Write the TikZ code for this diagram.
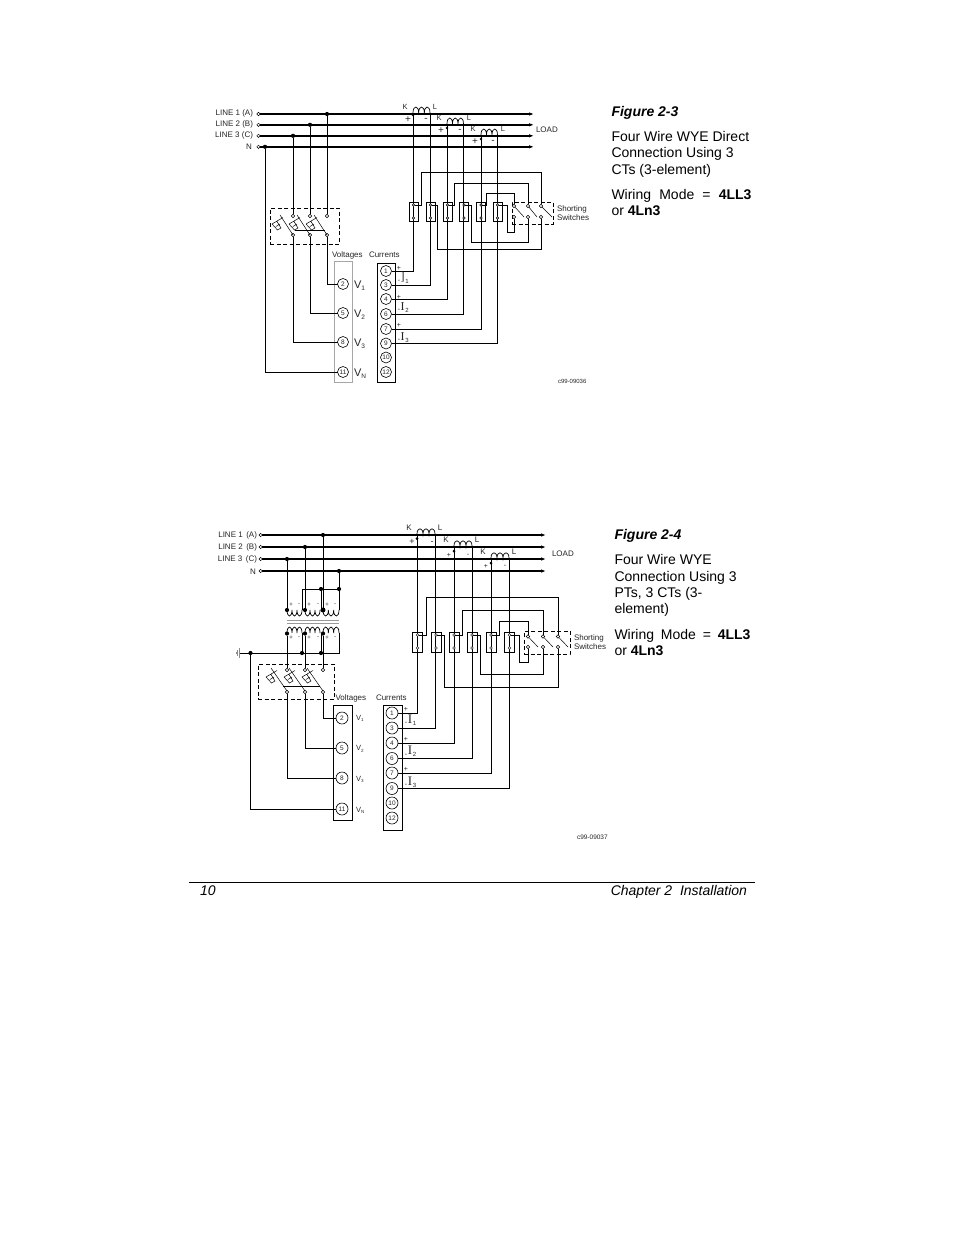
\documentclass[tikz,border=0pt]{standalone}
\usepackage{fontspec}
\setmainfont{Liberation Sans}
\newfontfamily\serifI{Liberation Serif}
\usetikzlibrary{arrows.meta}
\newcommand{\fs}[1]{\fontsize{#1}{#1}\selectfont}
\newcommand{\Coil}[5][wire]{% x0, y, width, hump
  \draw[#1,line width=.7pt] (#2,#3)
   .. controls (#2,#3-#5) and (#2+#4/3,#3-#5) .. (#2+#4/3,#3)
   .. controls (#2+#4/3,#3-#5) and (#2+2*#4/3,#3-#5) .. (#2+2*#4/3,#3)
   .. controls (#2+2*#4/3,#3-#5) and (#2+#4,#3-#5) .. (#2+#4,#3);}
\newcommand{\Fuse}[3]{% x of bottom terminal, y top terminal, blade rise
  \draw[thin line] (#1-#3,#2-1) -- (#1,#2+#3+6);
  \draw[thin line] (#1-21,#2+8) -- (#1-10,#2+1.5)
    (#1-21,#2+8) -- (#1-15.5,#2+14) -- (#1-12,#2+12) -- (#1-16,#2+5.5)
    (#1-17,#2+10.5) -- (#1-13,#2+8);}
\tikzset{
  x=1pt,y=-1pt,
  every node/.style={inner sep=0pt,outer sep=0pt,text=black!85},
  bus/.style={line width=1.5pt,-{Latex[length=5pt,width=3.5pt]}},
  wire/.style={line width=.85pt,black},
  thin line/.style={line width=.5pt,black},
  pt/.style={circle,draw=black,fill=white,line width=.45pt,minimum size=3.4pt},
  dot/.style={circle,fill=black,minimum size=4.2pt},
  term/.style={circle,draw=black,fill=white,line width=.6pt,minimum size=11pt,font=\fs{6.5}},
  ctbox/.style={draw=black,line width=.8pt,minimum width=9pt,minimum height=19pt},
  ctboxb/.style={draw=black,line width=.8pt,minimum width=10pt,minimum height=20pt},
  swbox/.style={draw=black,line width=.9pt,dashed,dash pattern=on 4pt off 2.5pt},
  lab/.style={font=\fs{8},anchor=base west},
  labe/.style={font=\fs{8},anchor=base east},
  labc/.style={font=\fs{8},anchor=center},
  main/.style={font=\fs{14},anchor=base west,text=black},
}
\begin{document}
\begin{tikzpicture}
\useasboundingbox (0,0) rectangle (954,1235);
\fill[white] (0,0) rectangle (954,1235);

%%%%%%%%%%%%%%%%%% FIGURE 2-3
\node[pt] (a1) at (258.5,114) {}; \coordinate (e1) at (534,114);
\node[pt] (a2) at (258.5,124.8) {}; \coordinate (e2) at (534,124.8);
\node[pt] (a3) at (258.5,135.8) {}; \coordinate (e3) at (534,135.8);
\node[pt] (a4) at (258.5,146.8) {}; \coordinate (e4) at (534,146.8);
\foreach \i in {1,...,4} \draw[bus] (a\i) -- (e\i);
\node[labe] (ta1) at (253,115.5) {LINE 1 (A)};
\node[labe] (ta2) at (253,126.5) {LINE 2 (B)};
\node[labe] (ta3) at (253,137.5) {LINE 3 (C)};
\node[labe] (ta4) at (252,149.5) {N};
\node[lab] (tload) at (536,132) {LOAD};
\node[dot] (d1) at (327,114) {};
\node[dot] (d2) at (310,124.8) {};
\node[dot] (d3) at (293,135.8) {};
\node[dot] (d4) at (265,146.8) {};
\node[swbox,minimum width=69pt,minimum height=36pt] (vsw) at (304.5,226) {};
\foreach \n/\x in {a/293,b/310,c/327}{
  \node[pt] (st\n) at (\x,216) {};
  \node[pt] (sb\n) at (\x,235) {};
  \Fuse{\x}{216}{13}
}
\draw[thin line] (295,230) -- (325,230);
\draw[wire] (d3) -- (sta);
\draw[wire] (d2) -- (stb);
\draw[wire] (d1) -- (stc);
\node[draw=black!35,line width=.9pt,minimum width=18pt,minimum height=121pt] (vb) at (343,321.5) {};
\node[term] (v2) at (343,284) {2};
\node[term] (v5) at (343,313) {5};
\node[term] (v8) at (343,342) {8};
\node[term] (v11) at (343,372) {11};
\draw[wire] (sbc) |- (v2);
\draw[wire] (sbb) |- (v5);
\draw[wire] (sba) |- (v8);
\draw[wire] (d4) |- (v11);
\node[lab,font=\fs{8}] (tv) at (332,257) {Voltages};
\node[lab,font=\fs{8}] (tc) at (369,257) {Currents};
\node[lab,font=\fs{11}] (lv1) at (354,288) {V\raisebox{-2.5pt}{\fs{6.5}1}};
\node[lab,font=\fs{11}] (lv2) at (354,317) {V\raisebox{-2.5pt}{\fs{6.5}2}};
\node[lab,font=\fs{11}] (lv3) at (354,346) {V\raisebox{-2.5pt}{\fs{6.5}3}};
\node[lab,font=\fs{11}] (lvn) at (354,376) {V\raisebox{-2.5pt}{\fs{6.5}N}};
\node[draw=black,line width=.9pt,minimum width=18pt,minimum height=119pt] (cb) at (386,322.5) {};
\foreach \n/\y in {1/271,3/285,4/299,6/314,7/329,9/343.5,10/357.5,12/372}
  \node[term] (c\n) at (386,\y) {\n};
\Coil{413}{113}{17}{8}
\Coil{447}{124}{16.5}{8}
\Coil{481}{135}{16.5}{8}
\coordinate (k1) at (413,113); \coordinate (l1) at (430,113);
\coordinate (k2) at (447,124); \coordinate (l2) at (463.5,124);
\coordinate (k3) at (481,135); \coordinate (l3) at (497.5,135);
\node[dot,minimum size=2.6pt] (kd1) at (413,115) {};
\node[dot,minimum size=2.6pt] (kd2) at (447,128) {};
\node[dot,minimum size=2.6pt] (kd3) at (481,139) {};
\draw[wire] (k1) |- (c1);
\draw[wire] (l1) |- (c3);
\draw[wire] (k2) |- (c4);
\draw[wire] (l2) |- (c6);
\draw[wire] (k3) |- (c7);
\draw[wire] (l3) |- (c9);
\foreach \n/\x/\y in {1/405/107,2/439/118,3/473/129} \node[labc,font=\fs{7.5}] (tk\n) at (\x,\y) {K};
\foreach \n/\x/\y in {1/435/107,2/469/118,3/503/129} \node[labc,font=\fs{7.5}] (tl\n) at (\x,\y) {L};
\foreach \n/\x/\y in {1/408/120,2/441/131,3/475/142} \node[labc,font=\fs{10}] (tp\n) at (\x,\y) {+};
\foreach \n/\x/\y in {1/426/120,2/460/131,3/493/142} \node[labc,font=\fs{10}] (tm\n) at (\x,\y) {-};
\foreach \n/\x in {1/413.5,2/430.5,3/447.5,4/464,5/481,6/497.5}{
  \node[ctbox] (b\n) at (\x,211.5) {};
  \node[pt,minimum size=2.6pt] (bt\n) at (\x,205) {};
  \node[pt,minimum size=2.6pt] (bb\n) at (\x,218) {};
}
\node[swbox,minimum width=41pt,minimum height=22pt] (isw) at (532.5,213) {};
\foreach \n/\x in {a/514,b/528,c/541}{
  \node[pt] (it\n) at (\x,206) {};
  \node[pt] (ib\n) at (\x,217) {};
}
\draw[thin line] (ita) -- (524,217);
\draw[thin line] (itb) -- (537,217);
\draw[thin line] (itc) -- (552,217);
\coordinate (r1) at (541,172); \coordinate (r2) at (528,183); \coordinate (r3) at (514,193);
\coordinate (q1) at (541,249); \coordinate (q2) at (528,242); \coordinate (q3) at (514,232);
\draw[wire] (bt1) -- ++(8,0) |- (r1) -- (itc);
\draw[wire] (bt3) -- ++(7,0) |- (r2) -- (itb);
\draw[wire] (bt5) -- ++(5.5,0) |- (r3) -- (ita);
\draw[wire] (bt2) -- ++(7,0) |- (q1) -- (ibc);
\draw[wire] (bt4) -- ++(7,0) |- (q2) -- (ibb);
\draw[wire] (bt6) -- ++(9.5,0) |- (q3) -- (iba);
\node[lab] (ts1) at (557,211) {Shorting};
\node[lab] (ts2) at (557,220) {Switches};
\node[lab,font=\fs{6}] (tc99a) at (558,383) {c99-09036};
\node[labc,font=\fs{7}] (p1) at (399,268) {+};
\node[labc,font=\fs{7}] (p2) at (399,297) {+};
\node[labc,font=\fs{7}] (p3) at (399,325) {+};
\node[labc,font=\fs{7}] (m1) at (399,281) {-};
\node[labc,font=\fs{7}] (m2) at (399,310) {-};
\node[labc,font=\fs{7}] (m3) at (399,340) {-};
\node[labc,font=\fs{12}] (i1) at (402.5,277.5) {\serifI ]};
\node[labc,font=\fs{12}] (i2) at (402.5,306.5) {\serifI I};
\node[labc,font=\fs{12}] (i3) at (402.5,336.5) {\serifI I};
\node[labc,font=\fs{6}] (is1) at (407,281) {1};
\node[labc,font=\fs{6}] (is2) at (407,310) {2};
\node[labc,font=\fs{6}] (is3) at (407,340) {3};

\node[main,font=\fs{14}\bfseries\itshape] (f3) at (611.5,116) {Figure 2-3};
\node[main] (f3a) at (611.5,141) {Four Wire WYE Direct};
\node[main] (f3b) at (611.5,157) {Connection Using 3};
\node[main] (f3c) at (611.5,174) {CTs (3-element)};
\node[main] (f3d) at (611.5,199) {\hbox to 140pt{Wiring\hfill Mode\hfill =\hfill \textbf{4LL3}}};
\node[main] (f3e) at (611.5,215.5) {or \textbf{4Ln3}};

%%%%%%%%%%%%%%%%%% FIGURE 2-4
\node[pt] (A1) at (260.7,535) {}; \coordinate (E1) at (546,535);
\node[pt] (A2) at (260.7,547) {}; \coordinate (E2) at (546,547);
\node[pt] (A3) at (260.7,559) {}; \coordinate (E3) at (546,559);
\node[pt] (A4) at (260.7,571) {}; \coordinate (E4) at (546,571);
\foreach \i in {1,...,4} \draw[bus] (A\i) -- (E\i);
\node[labe] (TA1) at (257,537) {LINE 1\, (A)};
\node[labe] (TA2) at (257,549) {LINE 2\, (B)};
\node[labe] (TA3) at (257,561) {LINE 3\, (C)};
\node[labe] (TA4) at (256,574) {N};
\node[lab] (TLOAD) at (552,556) {LOAD};
\node[dot] (D1) at (323,535) {};
\node[dot] (D2) at (305,547) {};
\node[dot] (D3) at (287,559) {};
\node[dot] (D4) at (339,571) {};
\Coil{287}{610}{15}{-8}
\Coil{305}{610}{15}{-8}
\Coil{323}{610}{16}{-8}
\Coil{287}{633}{15}{8}
\Coil{305}{633}{15}{8}
\Coil{323}{633}{16}{8}
\draw[black!40,line width=.7pt] (287,620) -- (339,620) (287,623) -- (339,623);
\node[dot] (P1) at (287,610) {};
\node[dot] (P2) at (305,610) {};
\node[dot,minimum size=5pt] (P3) at (323,610) {};
\coordinate (P4) at (339,610);
\coordinate (P5) at (302,610);
\coordinate (P6) at (321,610);
\node[dot] (Y1) at (321,589) {};
\node[dot] (Y2) at (339,589) {};
\coordinate (Y3) at (302,589);
\draw[wire] (D3) -- (P1);
\draw[wire] (D2) -- (P2);
\draw[wire] (D1) -- (P3);
\draw[wire] (D4) -- (P4);
\draw[wire] (P5) -- (Y3) -- (Y2);
\draw[wire] (Y1) -- (P6);
\foreach \n/\x in {1/291,2/309,3/327}{
  \node[labc,font=\fs{6}] (pp\n) at (\x,605) {+};
  \node[labc,font=\fs{6}] (sp\n) at (\x,638) {+};
}
\foreach \n/\x in {1/299,2/318,3/335}{
  \node[labc,font=\fs{6}] (pm\n) at (\x,605) {-};
  \node[labc,font=\fs{6}] (sm\n) at (\x,638) {-};
}
\node[dot] (S1) at (287,633.5) {};
\node[dot] (S2) at (305,633.5) {};
\node[dot] (S3) at (323,633.5) {};
\coordinate (S5) at (302,633); \coordinate (S6) at (321,633); \coordinate (S4) at (339,633);
\coordinate (G0) at (239,653);
\coordinate (G4) at (339,653);
\node[dot] (G1) at (250.5,653) {};
\node[dot] (G2) at (302,653) {};
\node[dot] (G3) at (321,653) {};
\draw[wire] (S4) -- (G4) -- (G0);
\draw[wire] (S5) -- (G2);
\draw[wire] (S6) -- (G3);
\draw[black!45,line width=.5pt] (239,648) -- (239,658) (237.5,650) -- (237.5,656) (236,652) -- (236,654);
\node[swbox,minimum width=76pt,minimum height=35pt] (VSW) at (296,681.5) {};
\foreach \n/\x in {a/287,b/305,c/323}{
  \node[pt] (Bt\n) at (\x,670) {};
  \node[pt] (Bb\n) at (\x,692) {};
  \Fuse{\x}{669}{16}
}
\draw[thin line] (283,686) -- (320,686);
\draw[wire] (S1) -- (Bta);
\draw[wire] (S2) -- (Btb);
\draw[wire] (S3) -- (Btc);
\node[draw=black,line width=.9pt,minimum width=19pt,minimum height=115pt] (VB) at (342.5,762.5) {};
\node[term,minimum size=12pt] (V2) at (342,718) {2};
\node[term,minimum size=12pt] (V5) at (342,748) {5};
\node[term,minimum size=12pt] (V8) at (342,778) {8};
\node[term,minimum size=12pt] (V11) at (342,809) {11};
\draw[wire] (Bbc) |- (V2);
\draw[wire] (Bbb) |- (V5);
\draw[wire] (Bba) |- (V8);
\draw[wire] (G1) |- (V11);
\node[lab] (TV) at (335.5,700) {Voltages};
\node[lab] (TC) at (376,700) {Currents};
\node[lab,font=\fs{7.5}] (LV1) at (356,720) {V\raisebox{-1.5pt}{\fs{4.5}1}};
\node[lab,font=\fs{7.5}] (LV2) at (356,750.5) {V\raisebox{-1.5pt}{\fs{4.5}2}};
\node[lab,font=\fs{7.5}] (LV3) at (356,781) {V\raisebox{-1.5pt}{\fs{4.5}3}};
\node[lab,font=\fs{7.5}] (LVN) at (356,812) {V\raisebox{-1.5pt}{\fs{4.5}N}};
\node[draw=black,line width=.9pt,minimum width=19pt,minimum height=125pt] (CB) at (392.5,767.5) {};
\foreach \n/\y in {1/713,3/728,4/743,6/758.5,7/773,9/788.5,10/803,12/818}
  \node[term,minimum size=12pt] (C\n) at (392,\y) {\n};
\Coil{417}{534}{18}{7}
\Coil{454}{546}{18}{7}
\Coil{491}{558}{18}{7}
\coordinate (K1) at (417,534); \coordinate (L1) at (435,534);
\coordinate (K2) at (454,546); \coordinate (L2) at (472,546);
\coordinate (K3) at (491,558); \coordinate (L3) at (509,558);
\coordinate (K1s) at (412.5,534); \coordinate (K2s) at (449.5,546); \coordinate (K3s) at (486.5,558);
\draw[wire] (K1s) -- (K1);
\draw[wire] (K2s) -- (K2);
\draw[wire] (K3s) -- (K3);
\node[dot,minimum size=3pt] (KD1) at (417,538.5) {};
\node[dot,minimum size=3pt] (KD2) at (454,551) {};
\node[dot,minimum size=3pt] (KD3) at (491,563) {};
\draw[wire] (K1) |- (C1);
\draw[wire] (L1) |- (C3);
\draw[wire] (K2) |- (C4);
\draw[wire] (L2) |- (C6);
\draw[wire] (K3) |- (C7);
\draw[wire] (L3) |- (C9);
\foreach \n/\x/\y in {1/409/528,2/446/540,3/483/552} \node[labc] (TK\n) at (\x,\y) {K};
\foreach \n/\x/\y in {1/440/528,2/477/540,3/514/552} \node[labc] (TL\n) at (\x,\y) {L};
\foreach \n/\x/\y/\s in {1/412/542/9,2/449/555/7,3/486/566/7} \node[labc,font=\fs{\s}] (TP\n) at (\x,\y) {+};
\foreach \n/\x/\y/\s in {1/432/543/9,2/468/555/7,3/505/566/7} \node[labc,font=\fs{\s}] (TM\n) at (\x,\y) {-};
\foreach \n/\x in {1/417.5,2/436,3/454,4/472,5/491,6/509.5}{
  \node[ctboxb] (B\n) at (\x,642) {};
  \node[pt,minimum size=2.8pt] (Tt\n) at (\x,635) {};
  \node[pt,minimum size=2.8pt] (Tb\n) at (\x,648) {};
}
\node[swbox,minimum width=46pt,minimum height=23pt] (ISW) at (547,642.5) {};
\foreach \n/\x in {a/528,b/543,c/558}{
  \node[pt] (It\n) at (\x,636.5) {};
  \node[pt] (Ib\n) at (\x,647) {};
}
\draw[thin line] (Ita) -- (538,647);
\draw[thin line] (Itb) -- (553,647);
\draw[thin line] (Itc) -- (568,647);
\coordinate (R1) at (558,597); \coordinate (R2) at (543,610); \coordinate (R3) at (528,621);
\coordinate (Q1) at (558,687); \coordinate (Q2) at (543,674); \coordinate (Q3) at (528,662);
\draw[wire] (Tt1) -- ++(8.5,0) |- (R1) -- (Itc);
\draw[wire] (Tt3) -- ++(8,0) |- (R2) -- (Itb);
\draw[wire] (Tt5) -- ++(8,0) |- (R3) -- (Ita);
\draw[wire] (Tt2) -- ++(8,0) |- (Q1) -- (Ibc);
\draw[wire] (Tt4) -- ++(8,0) |- (Q2) -- (Ibb);
\draw[wire] (Tt6) -- ++(9.5,0) |- (Q3) -- (Iba);
\node[lab] (TS1) at (574,640) {Shorting};
\node[lab] (TS2) at (574,649) {Switches};
\node[lab,font=\fs{6.5}] (Tc99) at (577,839) {c99-09037};
\node[labc,font=\fs{7}] (Pp1) at (406,709) {+};
\node[labc,font=\fs{7}] (Pp2) at (406,739) {+};
\node[labc,font=\fs{7}] (Pp3) at (406,769) {+};
\node[labc,font=\fs{7}] (Mm1) at (406,723) {-};
\node[labc,font=\fs{7}] (Mm2) at (406,755) {-};
\node[labc,font=\fs{7}] (Mm3) at (406,785) {-};
\node[labc,font=\fs{13}] (I1) at (410,719) {\serifI I};
\node[labc,font=\fs{13}] (I2) at (410,750.5) {\serifI I};
\node[labc,font=\fs{13}] (I3) at (410,781) {\serifI I};
\node[labc,font=\fs{6}] (Is1) at (414.5,723) {1};
\node[labc,font=\fs{6}] (Is2) at (414.5,754) {2};
\node[labc,font=\fs{6}] (Is3) at (414.5,785) {3};

\node[main,font=\fs{14}\bfseries\itshape] (f4) at (614.5,539) {Figure 2-4};
\node[main] (f4a) at (614.5,564.5) {Four Wire WYE};
\node[main] (f4b) at (614.5,581) {Connection Using 3};
\node[main] (f4c) at (614.5,597) {PTs, 3 CTs (3-};
\node[main] (f4d) at (614.5,613) {element)};
\node[main] (f4e) at (614.5,639) {\hbox to 136pt{Wiring\hfill Mode\hfill =\hfill \textbf{4LL3}}};
\node[main] (f4f) at (614.5,655) {or \textbf{4Ln3}};

%%%%%%%%%%%%%%%%%% FOOTER
\coordinate (rl) at (189,882.5); \coordinate (rr) at (755,882.5);
\draw[line width=.8pt] (rl) -- (rr);
\node[main,font=\fs{14}\itshape] (pg) at (200,895) {10};
\node[main,font=\fs{14}\itshape,anchor=base east] (ch) at (747,895) {Chapter 2\ \ Installation};
\end{tikzpicture}
\end{document}
